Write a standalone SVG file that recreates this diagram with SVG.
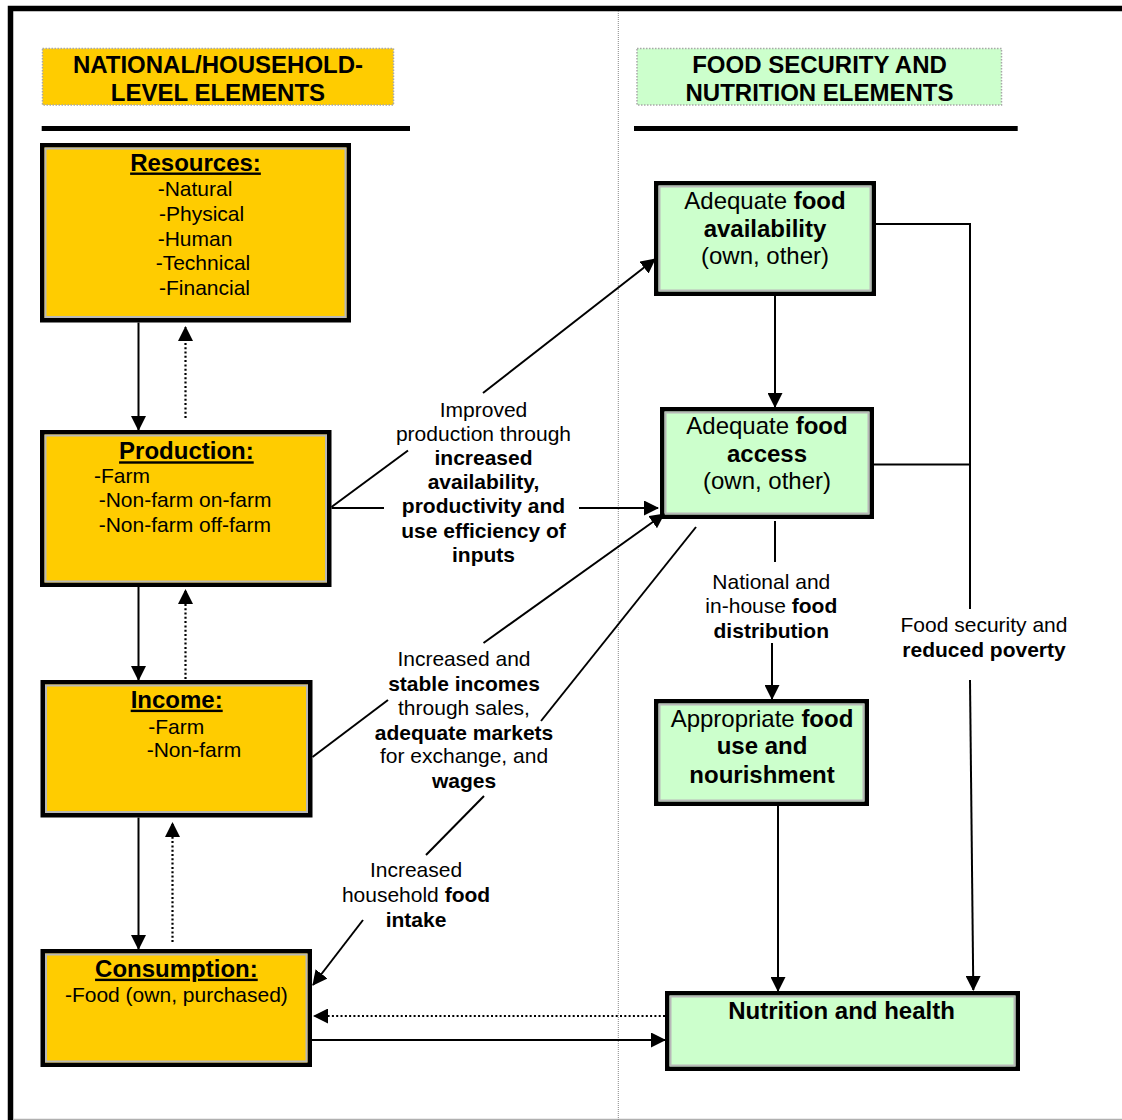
<svg xmlns="http://www.w3.org/2000/svg" width="1122" height="1120" viewBox="0 0 1122 1120">
<style>
text{font-family:"Liberation Sans",Arial,sans-serif;fill:#000}
.hd{font-size:24px;font-weight:bold;text-anchor:middle}
.ti{font-size:24px;font-weight:bold;text-anchor:middle;text-decoration:underline}
.it{font-size:21px}
.bx{font-size:24px;text-anchor:middle}
.lb{font-size:21px;text-anchor:middle}
.b{font-weight:bold}
.outer{stroke:#000;stroke-width:4.5}
.inner{fill:none;stroke:#b8b8b8;stroke-width:2}
.yel{fill:#FFCC00}
.grn{fill:#CCFFCC}
.hbox{stroke:#a8a8a8;stroke-width:1.5;stroke-dasharray:1.5 1.5}
.c{fill:none;stroke:#000;stroke-width:2}
.dot{stroke-dasharray:2 2.3;stroke-width:2.2}
</style>
<defs>
<marker id="ah" viewBox="0 0 15 15" refX="14" refY="7.5" markerWidth="15" markerHeight="15" markerUnits="userSpaceOnUse" orient="auto">
<path d="M0,0 L15,7.5 L0,15 z" fill="#000"/>
</marker>
</defs>

<g id="frame">
<path d="M10.5,1120 V8.5 H1122" fill="none" stroke="#000" stroke-width="5.5"/>
<line x1="13" y1="1119.5" x2="1122" y2="1119.5" stroke="#b0b0b0" stroke-width="1.5"/>
<line x1="618.3" y1="11" x2="618.3" y2="1120" stroke="#888" stroke-width="1" stroke-dasharray="1 1"/>
</g>

<g id="header-left">
<rect class="yel hbox" x="42.5" y="48.5" width="351" height="56.5"/>
<text class="hd" x="218" y="73">NATIONAL/HOUSEHOLD-</text>
<text class="hd" x="218" y="100.7">LEVEL ELEMENTS</text>
<line x1="41.7" y1="128.5" x2="410" y2="128.5" stroke="#000" stroke-width="5"/>
</g>

<g id="header-right">
<rect class="grn hbox" x="637" y="48.5" width="364.5" height="56.5"/>
<text class="hd" x="819.5" y="73">FOOD SECURITY AND</text>
<text class="hd" x="819.5" y="100.7">NUTRITION ELEMENTS</text>
<line x1="634" y1="128.5" x2="1017.7" y2="128.5" stroke="#000" stroke-width="5"/>
</g>

<g id="resources">
<rect class="outer yel" x="42.25" y="145.25" width="306.5" height="175"/>
<rect class="inner" x="45.5" y="148.5" width="300" height="168.5"/>
<text class="ti" x="195.5" y="170.5">Resources:</text>
<text class="it" x="157.7" y="196">-Natural</text>
<text class="it" x="159" y="220.7">-Physical</text>
<text class="it" x="157.7" y="245.5">-Human</text>
<text class="it" x="155.7" y="270">-Technical</text>
<text class="it" x="159" y="294.5">-Financial</text>
</g>

<g id="production">
<rect class="outer yel" x="42.25" y="432.25" width="287" height="152.5"/>
<rect class="inner" x="45.5" y="435.5" width="280.5" height="146"/>
<text class="ti" x="186.4" y="459.3">Production:</text>
<text class="it" x="94" y="483.3">-Farm</text>
<text class="it" x="98.7" y="507.3">-Non-farm on-farm</text>
<text class="it" x="98.7" y="532">-Non-farm off-farm</text>
</g>

<g id="income">
<rect class="outer yel" x="42.75" y="682.25" width="267.5" height="133"/>
<rect class="inner" x="46" y="685.5" width="261" height="126.5"/>
<text class="ti" x="176.7" y="707.7">Income:</text>
<text class="it" x="148.3" y="734">-Farm</text>
<text class="it" x="146.7" y="757.3">-Non-farm</text>
</g>

<g id="consumption">
<rect class="outer yel" x="42.75" y="951.25" width="267" height="113.5"/>
<rect class="inner" x="46" y="954.5" width="260.5" height="107"/>
<text class="ti" x="176.4" y="976.7">Consumption:</text>
<text class="it" x="176.4" y="1001.7" text-anchor="middle">-Food (own, purchased)</text>
</g>

<g id="food-availability">
<rect class="outer grn" x="656.25" y="183.25" width="217.5" height="110.5"/>
<rect class="inner" x="659.5" y="186.5" width="211" height="104"/>
<text class="bx" x="765" y="209">Adequate <tspan class="b">food</tspan></text>
<text class="bx b" x="765" y="236.7">availability</text>
<text class="bx" x="765" y="264.3">(own, other)</text>
</g>

<g id="food-access">
<rect class="outer grn" x="662.25" y="409.25" width="209.5" height="107.5"/>
<rect class="inner" x="665.5" y="412.5" width="203" height="101"/>
<text class="bx" x="767" y="434.3">Adequate <tspan class="b">food</tspan></text>
<text class="bx b" x="767" y="462.3">access</text>
<text class="bx" x="767" y="489.3">(own, other)</text>
</g>

<g id="food-use">
<rect class="outer grn" x="656.25" y="701.25" width="210.5" height="102.5"/>
<rect class="inner" x="659.5" y="704.5" width="204" height="96"/>
<text class="bx" x="762" y="727.3">Appropriate <tspan class="b">food</tspan></text>
<text class="bx b" x="762" y="754">use and</text>
<text class="bx b" x="762" y="782.7">nourishment</text>
</g>

<g id="nutrition-health">
<rect class="outer grn" x="667.25" y="993.25" width="350.5" height="75.5"/>
<rect class="inner" x="670.5" y="996.5" width="344" height="69"/>
<text class="bx b" x="841.5" y="1019">Nutrition and health</text>
</g>

<g id="connectors">
<path class="c" d="M138.5,322.5 V430" marker-end="url(#ah)"/>
<path class="c dot" d="M185.5,418 V327" marker-end="url(#ah)"/>
<path class="c" d="M138.5,587 V680" marker-end="url(#ah)"/>
<path class="c dot" d="M185.5,679 V590" marker-end="url(#ah)"/>
<path class="c" d="M138.5,817.5 V949" marker-end="url(#ah)"/>
<path class="c dot" d="M172.5,942 V823" marker-end="url(#ah)"/>
<path class="c" d="M331.5,507 L408,450.5"/>
<path class="c" d="M483,393 L655,259" marker-end="url(#ah)"/>
<path class="c" d="M331.5,508 H384"/>
<path class="c" d="M579,508 H658" marker-end="url(#ah)"/>
<path class="c" d="M312.5,757 L388,700"/>
<path class="c" d="M483.5,643 L664,514" marker-end="url(#ah)"/>
<path class="c" d="M696,527 L541,721"/>
<path class="c" d="M484,796 L426,855"/>
<path class="c" d="M363,920 L313,985" marker-end="url(#ah)"/>
<path class="c" d="M775,296 V407" marker-end="url(#ah)"/>
<path class="c" d="M775,521 V562"/>
<path class="c" d="M772,643 V699" marker-end="url(#ah)"/>
<path class="c" d="M876,224 H970 V609"/>
<path class="c" d="M874,464.5 H970"/>
<path class="c" d="M970,680 L973.3,990" marker-end="url(#ah)"/>
<path class="c" d="M778,806 V991" marker-end="url(#ah)"/>
<path class="c" d="M312,1040 H665" stroke-width="3" marker-end="url(#ah)"/>
<path class="c dot" d="M665,1016 H314" marker-end="url(#ah)"/>
</g>

<g id="labels">
<text class="lb" x="483.5" y="416.7">Improved</text>
<text class="lb" x="483.5" y="440.7">production through</text>
<text class="lb b" x="483.5" y="465">increased</text>
<text class="lb b" x="483.5" y="489.3">availability,</text>
<text class="lb b" x="483.5" y="513.3">productivity and</text>
<text class="lb b" x="483.5" y="537.7">use efficiency of</text>
<text class="lb b" x="483.5" y="562.3">inputs</text>

<text class="lb" x="464" y="666">Increased and</text>
<text class="lb b" x="464" y="690.7">stable incomes</text>
<text class="lb" x="464" y="715">through sales,</text>
<text class="lb b" x="464" y="740">adequate markets</text>
<text class="lb" x="464" y="763.3">for exchange, and</text>
<text class="lb b" x="464" y="788.3">wages</text>

<text class="lb" x="416" y="876.7">Increased</text>
<text class="lb" x="416" y="902.3">household <tspan class="b">food</tspan></text>
<text class="lb b" x="416" y="926.7">intake</text>

<text class="lb" x="771.3" y="589">National and</text>
<text class="lb" x="771.3" y="613.3">in-house <tspan class="b">food</tspan></text>
<text class="lb b" x="771.3" y="638.3">distribution</text>

<text class="lb" x="984" y="631.7">Food security and</text>
<text class="lb b" x="984" y="656.7">reduced poverty</text>
</g>
</svg>
